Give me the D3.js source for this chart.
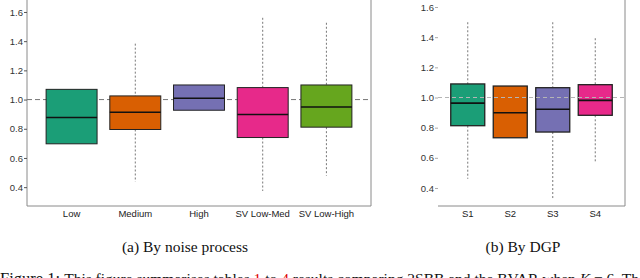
<!DOCTYPE html>
<meta charset="utf-8">
<style>
  body { margin: 0; background: #fff; }
  svg { display: block; }
</style>
<svg width="640" height="278"></svg>
<script src="https://d3js.org/d3.v7.min.js"></script>
<script>

// panel (a): by noise process
var noiseCats = ["Low", "Medium", "High", "SV Low-Med", "SV Low-High"];
var noiseQ1   = [0.697, 0.795, 0.927, 0.740, 0.811];
var noiseMed  = [0.877, 0.913, 1.009, 0.898, 0.949];
var noiseQ3   = [1.070, 1.025, 1.100, 1.082, 1.100];
var noiseLo   = [null, 0.437, null, 0.374, 0.478];
var noiseHi   = [null, 1.383, null, 1.560, 1.526];

// panel (b): by DGP
var dgpCats = ["S1", "S2", "S3", "S4"];
var dgpQ1   = [0.813, 0.733, 0.771, 0.882];
var dgpMed  = [0.963, 0.899, 0.922, 0.981];
var dgpQ3   = [1.090, 1.076, 1.065, 1.085];
var dgpLo   = [0.461, null, 0.332, 0.570];
var dgpHi   = [1.499, null, 1.499, 1.393];

var yTicks = [0.4, 0.6, 0.8, 1.0, 1.2, 1.4, 1.6];
var colors = ["#1B9E77", "#D95F02", "#7570B3", "#E7298A", "#66A61E"];

var svg = d3.select("svg");

function drawPanel(o) {
  var g = svg.append("g");

  var x = d3.scaleBand().domain(o.cats).range([o.x0, o.x1])
      .paddingInner(0).paddingOuter(0.2);
  var y = d3.scaleLinear().domain(o.ydom).range([206, 0]);
  var bw = x.bandwidth() * 0.8;

  // frame
  g.append("path")
      .attr("d", o.frame(o.x0, o.x1))
      .attr("fill", "none").attr("stroke", "#8a8a8a").attr("stroke-width", 1);

  // y axis, labels + little ticks
  var ya = g.append("g").attr("transform", "translate(" + o.x0 + ",0)")
      .call(d3.axisLeft(y).tickValues(yTicks).tickFormat(d3.format(".1f"))
        .tickSize(3).tickPadding(1));
  ya.select(".domain").remove();
  ya.selectAll("line").attr("stroke", o.tickColor);
  ya.selectAll("text").attr("fill", "#333")
      .style("font", "9.5px 'Liberation Sans', Arial, sans-serif");

  // x labels
  var xa = g.append("g").attr("transform", "translate(0,206)")
      .call(d3.axisBottom(x).tickSize(0).tickPadding(4));
  xa.select(".domain").remove();
  xa.selectAll("text").attr("fill", "#222")
      .style("font", "9.5px 'Liberation Sans', Arial, sans-serif");

  var refLine = function() {
    g.append("line")
        .attr("x1", o.x0).attr("x2", o.x1)
        .attr("y1", y(1)).attr("y2", y(1))
        .attr("stroke", o.refColor).attr("stroke-width", 1)
        .attr("stroke-dasharray", o.refDash);
  };
  if (!o.refOnTop) refLine();

  o.cats.forEach(function(c, i) {
    var cx = x(c) + x.bandwidth() / 2;
    // whiskers
    if (o.hi[i] != null) {
      g.append("line").attr("x1", cx).attr("x2", cx)
          .attr("y1", y(o.hi[i])).attr("y2", y(o.q3[i]))
          .attr("stroke", "#777").attr("stroke-dasharray", "2,2");
    }
    if (o.lo[i] != null) {
      g.append("line").attr("x1", cx).attr("x2", cx)
          .attr("y1", y(o.q1[i])).attr("y2", y(o.lo[i]))
          .attr("stroke", "#777").attr("stroke-dasharray", "2,2");
    }
    g.append("rect")
        .attr("x", cx - bw / 2).attr("width", bw)
        .attr("y", y(o.q3[i])).attr("height", y(o.q1[i]) - y(o.q3[i]))
        .attr("fill", colors[i]).attr("stroke", "#222").attr("stroke-width", o.boxStroke);
    g.append("line")
        .attr("x1", cx - bw / 2).attr("x2", cx + bw / 2)
        .attr("y1", y(o.med[i])).attr("y2", y(o.med[i]))
        .attr("stroke", "#111").attr("stroke-width", 1.6);
  });

  if (o.refOnTop) refLine();
}

drawPanel({
  cats: noiseCats, q1: noiseQ1, med: noiseMed, q3: noiseQ3, lo: noiseLo, hi: noiseHi,
  x0: 27, x1: 371, ydom: [0.271, 1.682],
  frame: function(a, b) { return "M" + a + ",0V206H" + b + "V0"; },
  tickColor: "#555", refColor: "#777", refDash: "5,3", refOnTop: false, boxStroke: 1
});

drawPanel({
  cats: dgpCats, q1: dgpQ1, med: dgpMed, q3: dgpQ3, lo: dgpLo, hi: dgpHi,
  x0: 438, x1: 625, ydom: [0.2805, 1.6466],
  frame: function(a, b) { return "M" + a + ",206H" + b + "V0"; },
  tickColor: "#aaa", refColor: "#b5b5b5", refDash: "4,3", refOnTop: true, boxStroke: 1.3
});

// captions
var serif = "'Liberation Serif', 'DejaVu Serif', serif";
svg.append("text").attr("x", 185).attr("y", 252).attr("text-anchor", "middle")
    .style("font", "15.5px " + serif).attr("fill", "#111").text("(a) By noise process");
svg.append("text").attr("x", 523).attr("y", 252).attr("text-anchor", "middle")
    .style("font", "15.5px " + serif).attr("fill", "#111").text("(b) By DGP");

// figure caption, cut by the bottom edge as in the source
var fig = svg.append("text").attr("x", 0).attr("y", 284)
    .style("font", "15.5px " + serif).attr("fill", "#111");
fig.append("tspan").style("font-size", "16.5px").text("Figure 1: ");
fig.append("tspan").text("This figure summarises tables ");
fig.append("tspan").attr("fill", "#d00").text("1");
fig.append("tspan").text(" to ");
fig.append("tspan").attr("fill", "#d00").text("4");
fig.append("tspan").text(" results comparing 2SBB and the BVAR when ");
fig.append("tspan").style("font-style", "italic").text("K");
fig.append("tspan").text(" = 6. The");

</script>
